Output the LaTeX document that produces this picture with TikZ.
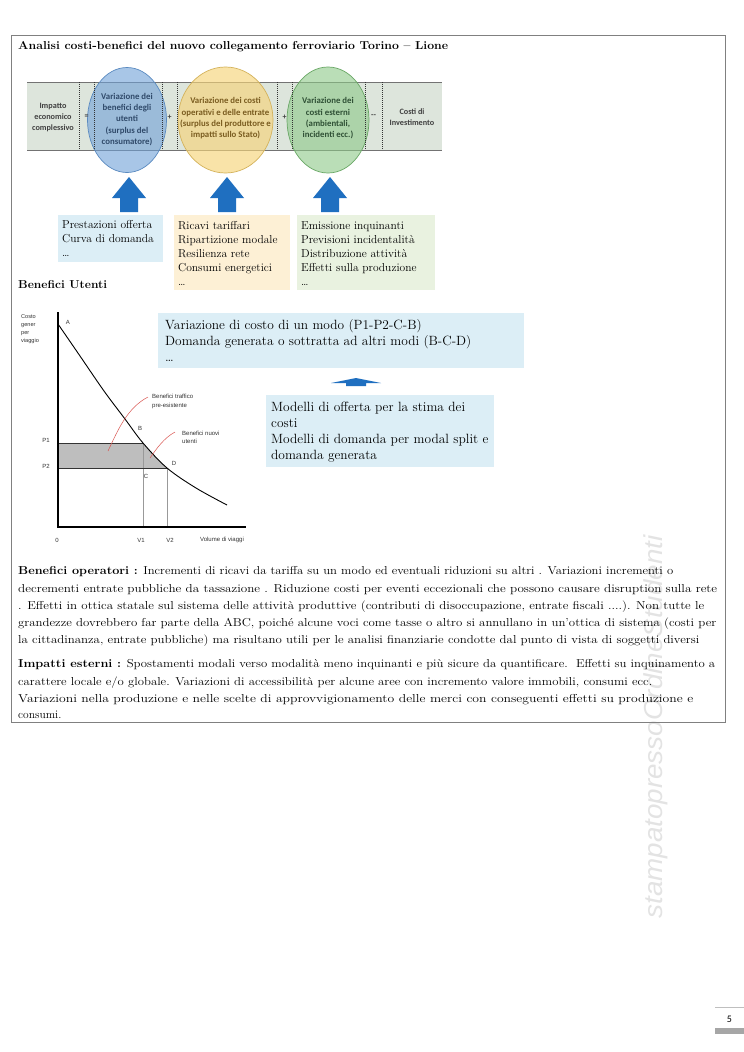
\documentclass[tikz,border=0pt]{standalone}
\usepackage{fontspec}
\usepackage{graphicx}
\newfontfamily\calfont{Carlito}
\newfontfamily\arialfont{Liberation Sans}
\newcommand\fitw[2]{\resizebox{#1}{\height}{#2}}
\definecolor{bandc}{HTML}{DDE5DC}
\definecolor{ellblue}{HTML}{6FA0D8}
\definecolor{ellbluedraw}{HTML}{5A8AC0}
\definecolor{ellyel}{HTML}{F6D47A}
\definecolor{ellyeldraw}{HTML}{D4B25A}
\definecolor{ellgreen}{HTML}{8CC888}
\definecolor{ellgreendraw}{HTML}{6AA866}
\definecolor{arrblue}{HTML}{1F6FC0}
\definecolor{boxblue}{HTML}{DCEEF6}
\definecolor{boxyel}{HTML}{FDF0D5}
\definecolor{boxgreen}{HTML}{E9F2E0}
\definecolor{txtblue}{HTML}{304A6A}
\definecolor{txtyel}{HTML}{7A5C20}
\definecolor{txtgreen}{HTML}{2F5035}
\definecolor{txtgray}{HTML}{404040}
\definecolor{shadegray}{HTML}{BEBEBE}
\definecolor{redann}{HTML}{D9534F}
\definecolor{framec}{HTML}{808080}
\begin{document}
\begin{tikzpicture}[x=1pt,y=-1pt,
  bandtxt/.style={inner sep=0, align=center, font=\calfont\bfseries\fontsize{8.2}{11}\selectfont},
  elltxt/.style={inner sep=0, align=center, font=\calfont\bfseries\fontsize{8.8}{11.3}\selectfont},
  optxt/.style={inner sep=0, font=\calfont\bfseries\fontsize{8}{9}\selectfont, text=txtgray},
  sepline/.style={black!80, line width=0.6, dash pattern=on 1pt off 1pt},
  blockarrow/.style={fill=arrblue, draw=none},
  boxtxt/.style={inner sep=0, anchor=west, align=left, font=\fontsize{11.5}{14}\selectfont},
  bigboxtxt/.style={inner sep=0, anchor=west, align=left, font=\fontsize{13.4}{16}\selectfont},
  ptxt/.style={inner sep=0, anchor=base west, font=\fontsize{11.5}{14}\selectfont},
  glab/.style={inner sep=0, font=\arialfont\fontsize{6}{8.5}\selectfont, text=black!80},
  ]
\useasboundingbox (0,0) rectangle (744,1052);
\fill[white] (0,0) rectangle (744,1052);

% watermark (behind everything)
\node[rotate=90, inner sep=0, text=black!11, font=\arialfont\itshape\fontsize{26}{26}\selectfont] (wm) at (656,727) {\fitw{383pt}{stampatopressoOrdineStudenti}};

% main frame
\draw[framec, line width=0.9] (11,35) rectangle (725,722);

% title
\node[ptxt] (title) at (18,49.5) {\fitw{430pt}{\bfseries Analisi costi-benefici del nuovo collegamento ferroviario Torino -- Lione}};

% band
\fill[bandc] (27,82) rectangle (442,150);
\draw[black!55, line width=0.8] (27,82) -- (442,82);
\draw[black!55, line width=0.8] (27,150) -- (442,150);

% ellipses
\draw[ellbluedraw, fill=ellblue, fill opacity=0.6, line width=0.7] (127,120) ellipse [x radius=39.5pt, y radius=52.5pt];
\draw[ellyeldraw, fill=ellyel, fill opacity=0.65, line width=0.7] (225.5,120) ellipse [x radius=47.5pt, y radius=53pt];
\draw[ellgreendraw, fill=ellgreen, fill opacity=0.6, line width=0.7] (328,120) ellipse [x radius=41pt, y radius=53pt];

% separator lines
\foreach \xx in {79,94,162,177,277,292,365,382}{
  \draw[sepline] (\xx,82) -- (\xx,150);
}

% band texts
\node[bandtxt, text=txtgray] (imp) at (53,117) {Impatto\\economico\\complessivo};
\node[elltxt, text=txtblue] (e1t) at (127,119.5) {Variazione dei\\benefici degli\\utenti\\(surplus del\\consumatore)};
\node[elltxt, text=txtyel] (e2t) at (225.5,118.5) {Variazione dei costi\\operativi e delle entrate\\(surplus del produttore e\\impatti sullo Stato)};
\node[elltxt, text=txtgreen] (e3t) at (328,118.5) {Variazione dei\\costi esterni\\(ambientali,\\incidenti ecc.)};
\node[bandtxt, text=txtgray] (inv) at (412,117.5) {Costi di\\Investimento};
\node[optxt] (op1) at (86.5,117) {=};
\node[optxt] (op2) at (169.5,117) {+};
\node[optxt] (op3) at (284.5,117) {+};
\node[optxt] (op4) at (373.5,116) {--};

% block arrows
\foreach \cx/\nm in {129/a1,227/a2,330/a3}{
  \fill[blockarrow] (\cx,177) -- (\cx+17,198) -- (\cx+9,198) -- (\cx+9,212) -- (\cx-9,212) -- (\cx-9,198) -- (\cx-17,198) -- cycle;
}

% lower boxes
\node[fill=boxblue, inner sep=0, minimum width=105, minimum height=47, anchor=north west] (bx1) at (58,215) {};
\node[boxtxt] (bx1t) at ([xshift=4]bx1.west) {Prestazioni offerta\\Curva di domanda\\\dots};
\node[fill=boxyel, inner sep=0, minimum width=116, minimum height=75, anchor=north west] (bx2) at (174,215) {};
\node[boxtxt] (bx2t) at ([xshift=4,yshift=-1]bx2.west) {Ricavi tariffari\\Ripartizione modale\\Resilienza rete\\Consumi energetici\\\dots};
\node[fill=boxgreen, inner sep=0, minimum width=138, minimum height=75, anchor=north west] (bx3) at (297,215) {};
\node[boxtxt] (bx3t) at ([xshift=4,yshift=-1]bx3.west) {Emissione inquinanti\\Previsioni incidentalità\\Distribuzione attività\\Effetti sulla produzione\\\dots};

% Benefici Utenti
\node[ptxt] (bu) at (18,288) {\fitw{89pt}{\bfseries Benefici Utenti}};

% graph
\coordinate (O) at (58,527);
\coordinate (Ytop) at (58,312);
\coordinate (Xend) at (246,527);
\coordinate (B) at (143,443);
\coordinate (D) at (167,468);
\coordinate (P1) at (58,443);
\coordinate (P2) at (58,468);
\fill[shadegray] (P1) -- (B) .. controls (151,452) and (158,460) .. (D) -- (P2) -- cycle;
\draw[black!40, line width=0.4] (B) -- (B |- O);
\draw[black!40, line width=0.4] (D) -- (D |- O);
\draw[black!80, line width=0.5] (P1) -- (B);
\draw[black!80, line width=0.5] (P2) -- (D);
\draw[black, line width=1.1] (Ytop) -- (O) -- (Xend);
\draw[black, line width=0.9] plot[smooth, tension=0.55] coordinates {(58,324) (80,356) (104,391) (125,419) (143,443) (167,468) (196,488) (227,505)};
\draw[redann, line width=0.5] (108,451) .. controls (118,430) and (127,408) .. (148,397);
\draw[redann, line width=0.5] (150,458) .. controls (157,448) and (164,438) .. (175,432);

\node[glab, anchor=west, align=left, font=\arialfont\fontsize{5.6}{7.8}\selectfont] (ylab) at (21,329) {Costo\\gener\\per\\viaggio};
\node[glab] (lA) at (68,322) {A};
\node[glab] (lB) at (140,428) {B};
\node[glab] (lC) at (146,476) {C};
\node[glab] (lD) at (174,463) {D};
\node[glab] (lP1) at (46,440) {P1};
\node[glab] (lP2) at (46,466) {P2};
\node[glab] (l0) at (57,540) {0};
\node[glab] (lV1) at (141,540) {V1};
\node[glab] (lV2) at (170,540) {V2};
\node[glab] (lvol) at (222,540) {Volume di viaggi};
\node[glab, anchor=west, align=left] (lben1) at (152,401.5) {Benefici traffico\\pre-esistente};
\node[glab, anchor=west, align=left] (lben2) at (182,437.5) {Benefici nuovi\\utenti};

% right boxes
\node[fill=boxblue, inner sep=0, minimum width=366, minimum height=55, anchor=north west] (rb1) at (158,313) {};
\node[bigboxtxt] (rb1t) at ([xshift=7]rb1.west) {Variazione di costo di un modo (P1-P2-C-B)\\Domanda generata o sottratta ad altri modi (B-C-D)\\\dots};
\fill[arrblue] (356,378) -- (381,383) -- (366,383) -- (366,386) -- (346,386) -- (346,383) -- (331,383) -- cycle;
\node[fill=boxblue, inner sep=0, minimum width=228, minimum height=72, anchor=north west] (rb2) at (266,395) {};
\node[bigboxtxt] (rb2t) at ([xshift=5,yshift=-1]rb2.west) {Modelli di offerta per la stima dei\\costi\\Modelli di domanda per modal split e\\domanda generata};

% paragraphs
\node[ptxt] (p1a) at (18,574) {\fitw{655pt}{\textbf{Benefici operatori :} Incrementi di ricavi da tariffa su un modo ed eventuali riduzioni su altri . Variazioni incrementi o}};
\node[ptxt] (p1b) at (18,592) {\fitw{699pt}{decrementi entrate pubbliche da tassazione . Riduzione costi per eventi eccezionali che possono causare disruption sulla rete}};
\node[ptxt] (p1c) at (18,609) {\fitw{686pt}{. Effetti in ottica statale sul sistema delle attività produttive (contributi di disoccupazione, entrate fiscali ....). Non tutte le}};
\node[ptxt] (p1d) at (18,626) {\fitw{698pt}{grandezze dovrebbero far parte della ABC, poiché alcune voci come tasse o altro si annullano in un’ottica di sistema (costi per}};
\node[ptxt] (p1e) at (18,643) {\fitw{681pt}{la cittadinanza, entrate pubbliche) ma risultano utili per le analisi finanziarie condotte dal punto di vista di soggetti diversi}};
\node[ptxt] (p2a) at (18,667) {\fitw{697pt}{\textbf{Impatti esterni :} Spostamenti modali verso modalità meno inquinanti e più sicure da quantificare.\ \ Effetti su inquinamento a}};
\node[ptxt] (p2b) at (18,685) {\fitw{634pt}{carattere locale e/o globale. Variazioni di accessibilità per alcune aree con incremento valore immobili, consumi ecc.}};
\node[ptxt] (p2c) at (18,702) {\fitw{675pt}{Variazioni nella produzione e nelle scelte di approvvigionamento delle merci con conseguenti effetti su produzione e}};
\node[ptxt] (p2d) at (18,718) {consumi.};

% page number
\draw[black!25, line width=1] (715,1007) -- (744,1007);
\node[inner sep=0, font=\calfont\fontsize{10}{12}\selectfont] (pg) at (729.5,1019.5) {5};
\fill[black!35] (715,1028) rectangle (744,1034);
\end{tikzpicture}
\end{document}
